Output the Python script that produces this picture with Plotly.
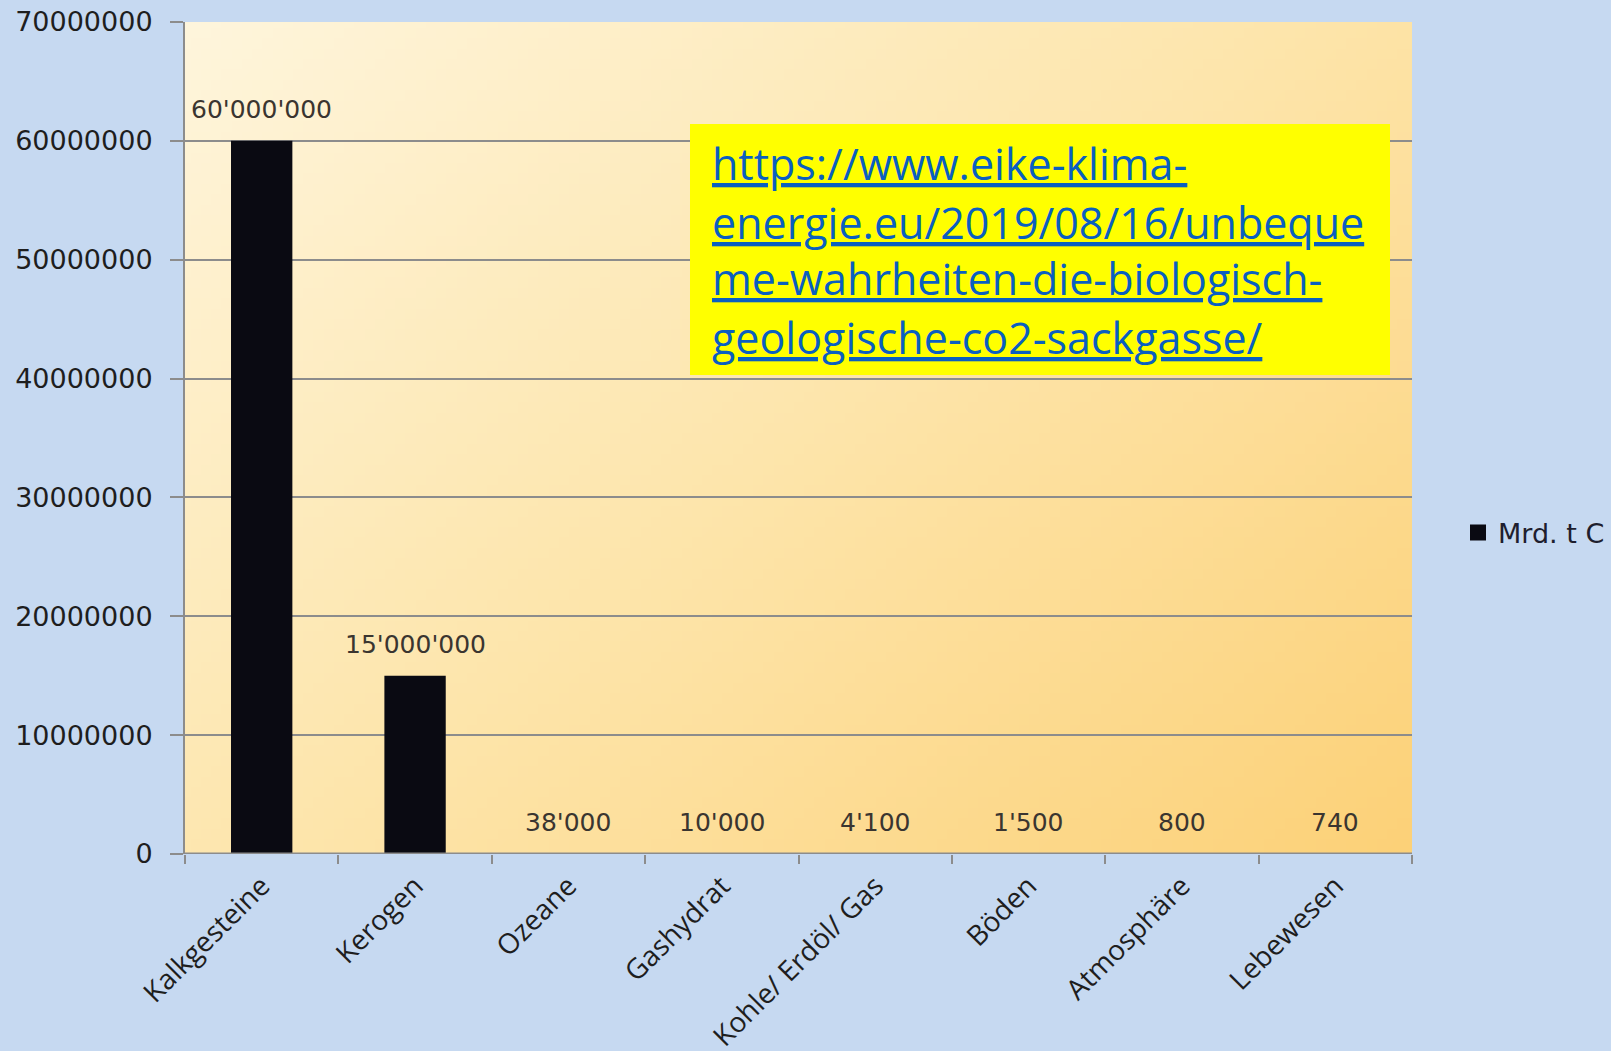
import base64, struct, zlib
import plotly.graph_objects as go

categories = ["Kalkgesteine", "Kerogen", "Ozeane", "Gashydrat", "Kohle/ Erdöl/ Gas",
              "Böden", "Atmosphäre", "Lebewesen"]
values = [60000000, 15000000, 38000, 10000, 4100, 1500, 800, 740]
series_name = "Mrd. t C"
url_lines = ["https://www.eike-klima-", "energie.eu/2019/08/16/unbeque",
             "me-wahrheiten-die-biologisch-", "geologische-co2-sackgasse/"]
y_ticks = [0, 10000000, 20000000, 30000000, 40000000, 50000000, 60000000, 70000000]


def hex2rgb(h):
    h = h.lstrip("#")
    return tuple(int(h[i:i + 2], 16) for i in (0, 2, 4))


def gradient_png(w, h, stops):
    stops = [(p, hex2rgb(c)) for p, c in stops]
    raw = bytearray()
    for j in range(h):
        raw.append(0)
        for i in range(w):
            t = (i / (w - 1) * 0.55 + j / (h - 1) * 0.45)
            for k in range(len(stops) - 1):
                p0, c0 = stops[k]
                p1, c1 = stops[k + 1]
                if t <= p1 or k == len(stops) - 2:
                    f = 0 if p1 == p0 else max(0, min(1, (t - p0) / (p1 - p0)))
                    raw.extend(int(round(c0[m] + (c1[m] - c0[m]) * f)) for m in range(3))
                    break

    def chunk(tag, data):
        c = struct.pack(">I", len(data)) + tag + data
        return c + struct.pack(">I", zlib.crc32(tag + data) & 0xffffffff)

    png = b"\x89PNG\r\n\x1a\n" + chunk(b"IHDR", struct.pack(">IIBBBBB", w, h, 8, 2, 0, 0, 0))
    png += chunk(b"IDAT", zlib.compress(bytes(raw), 9)) + chunk(b"IEND", b"")
    return "data:image/png;base64," + base64.b64encode(png).decode()


bg = gradient_png(120, 80, [(0.0, "#fef5dc"), (0.5, "#fde5ab"), (1.0, "#fcd178")])

W, H = 1611, 1051
L, R, T, B = 185, 1412, 22, 854
pw, ph = R - L, B - T


def px(x):
    return (x - L) / pw


def py(y):
    return (B - y) / ph


fig = go.Figure()
fig.add_trace(go.Bar(x=categories, y=values, name=series_name, width=0.4,
                     marker=dict(color="#0a0a12", line=dict(width=0)),
                     showlegend=False))
# legend entry (square marker like the original)
fig.add_trace(go.Scatter(x=[None], y=[None], mode="markers", name=series_name,
                         marker=dict(symbol="square", size=16, color="#0a0a12"),
                         showlegend=True))

labels = [f"{v:,}".replace(",", "'") for v in values]
for c, v, t in zip(categories, values, labels):
    fig.add_annotation(x=c, y=v, text=t, showarrow=False, yanchor="middle", yshift=31,
                       font=dict(family="DejaVu Sans", size=25, color="#3a3530"))

# category axis base line drawn over the zero level
fig.add_shape(type="line", xref="paper", yref="y", x0=0, x1=1, y0=0, y1=0,
              line=dict(color="#8c8c8c", width=3), layer="above")

fig.add_shape(type="rect", xref="paper", yref="paper", x0=px(690), x1=px(1390),
              y0=py(375), y1=py(124), fillcolor="#ffff00", line=dict(width=0), layer="above")
line_y = [164, 222, 279, 337]
for t, yy in zip(url_lines, line_y):
    fig.add_annotation(xref="paper", yref="paper", x=px(710), y=py(yy), text=f"<u>{t}</u>",
                       showarrow=False, xanchor="left", yanchor="middle",
                       font=dict(family="Open Sans", size=43, color="#0a5fc0"))

fig.update_layout(
    width=W, height=H,
    margin=dict(l=L, r=W - R, t=T, b=H - B, pad=0, autoexpand=False),
    paper_bgcolor="#c6d9f1",
    plot_bgcolor="rgba(0,0,0,0)",
    bargap=0.6,
    images=[dict(source=bg, xref="paper", yref="paper", x=0, y=1, sizex=1, sizey=1,
                 sizing="stretch", xanchor="left", yanchor="top", layer="below")],
    legend=dict(x=px(1458), y=py(533), xanchor="left", yanchor="middle",
                bgcolor="rgba(0,0,0,0)", itemwidth=30,
                font=dict(family="DejaVu Sans", size=27, color="#1e1e2e")),
    xaxis=dict(type="category", tickangle=-45, tickson="boundaries", ticks="outside",
               ticklen=9, tickcolor="#8c8c8c", tickwidth=2, showline=False,
               showgrid=False, ticklabelstandoff=9, automargin=False,
               tickfont=dict(family="Open Sans", size=28, color="#1e1e1e")),
    yaxis=dict(range=[0, 70000000], tickvals=y_ticks, tickformat="d", ticks="outside",
               ticklen=13, tickcolor="#8c8c8c", tickwidth=2, showline=True,
               linecolor="#8c8c8c", linewidth=2, showgrid=True, gridcolor="#8c8c8c",
               gridwidth=2, zeroline=False, ticklabelstandoff=12, automargin=False,
               tickfont=dict(family="DejaVu Sans", size=27, color="#1e1e1e")),
)

fig.write_html("out.html", config={"displayModeBar": False},
               post_script="document.body.style.margin='0';document.body.style.overflow='hidden';")
